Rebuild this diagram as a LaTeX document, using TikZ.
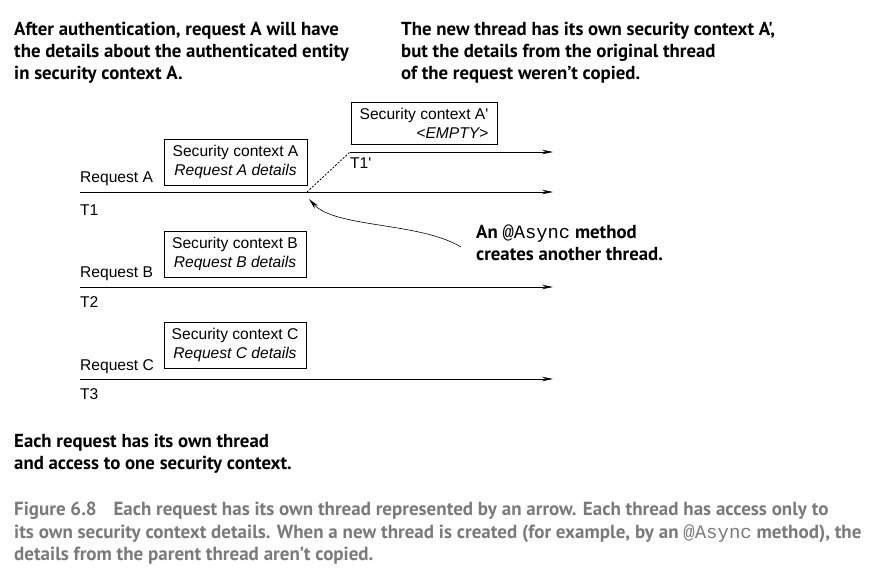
\documentclass[tikz,border=0pt]{standalone}
\usepackage{fontspec}
\setmainfont{Liberation Sans}
\setmonofont{Liberation Mono}
\newfontfamily\notefont{PT Sans}
\usetikzlibrary{arrows.meta}

\begin{document}
\begin{tikzpicture}[
  x=1pt,y=-1pt,
  >={Stealth[length=11pt,width=4.5pt]},
  thread/.style={->, line width=0.8pt, draw=black},
  ctxbox/.style={draw=black, line width=0.8pt, inner sep=0pt, align=center,
    font=\fontsize{15.6}{19}\selectfont},
  label/.style={anchor=base west, inner sep=0pt, font=\fontsize{15.6}{17}\selectfont},
  note/.style={anchor=north west, inner sep=0pt, align=left,
    font=\notefont\bfseries\fontsize{18.8}{22}\selectfont},
  caption/.style={anchor=north west, inner sep=0pt, align=left, text=black!52,
    font=\notefont\bfseries\fontsize{19}{22.5}\selectfont}
]
\useasboundingbox (0,0) rectangle (883,578);

% Thread end points
\coordinate (T1s) at (80,192);
\coordinate (T1e) at (553,192);
\coordinate (fork) at (307,192);
\coordinate (T1ps) at (350,152);
\coordinate (T1pe) at (553,152);
\coordinate (T2s) at (80,287);
\coordinate (T2e) at (553,287);
\coordinate (T3s) at (80,379);
\coordinate (T3e) at (553,379);
\coordinate (forktip) at (309,199);

% Threads
\draw[thread] (T1s) -- (T1e);
\draw[thread] (T1ps) -- (T1pe);
\draw[line width=0.8pt, dash pattern=on 2pt off 1.5pt] (fork) -- (T1ps);
\draw[thread] (T2s) -- (T2e);
\draw[thread] (T3s) -- (T3e);

% Security contexts
\node[ctxbox, minimum width=143pt, minimum height=46pt] (ctxA) at (235.5,162)
  {Security context A\\\itshape Request A details};
\node[ctxbox, minimum width=142pt, minimum height=46pt] (ctxB) at (235,254)
  {Security context B\\\itshape Request B details};
\node[ctxbox, minimum width=142pt, minimum height=46pt] (ctxC) at (235,345)
  {Security context C\\\itshape Request C details};
\node[ctxbox, minimum width=146pt, minimum height=42pt, align=right] (ctxAp) at (424,123)
  {Security context A\textquotesingle\\\itshape <EMPTY>};

% Request and thread labels
\node[label] (reqA) at (80,182.5) {Request A};
\node[label] (t1) at (80,215.5) {T1};
\node[label] (t1p) at (350,168) {T1\textquotesingle};
\node[label] (reqB) at (80,277) {Request B};
\node[label] (t2) at (80,307.5) {T2};
\node[label] (reqC) at (80,370) {Request C};
\node[label] (t3) at (80,399.5) {T3};

% Annotations
\node[note] (noteAuth) at (14,22) {After authentication, request A will have\\
  the details about the authenticated entity\\in security context A.};
\node[note] (noteNew) at (401,22) {The new thread has its own security context A',\\
  but the details from the original thread\\of the request weren’t copied.};
\node[note] (noteAsync) at (476,225) {An {\ttfamily\mdseries @Async} method\\creates another thread.};
\node[note] (noteEach) at (14,434) {Each request has its own thread\\and access to one security context.};

\draw[->, line width=0.6pt] (461,247) .. controls (420,222) and (335,228) .. (forktip);

% Caption
\node[caption] (cap) at (14,502) {Figure 6.8\hspace{12pt} Each request has its own thread represented by an arrow. Each thread has access only to\\
  its own security context details. When a new thread is created (for example, by an {\ttfamily\mdseries @Async} method), the\\
  details from the parent thread aren’t copied.};

\end{tikzpicture}
\end{document}
